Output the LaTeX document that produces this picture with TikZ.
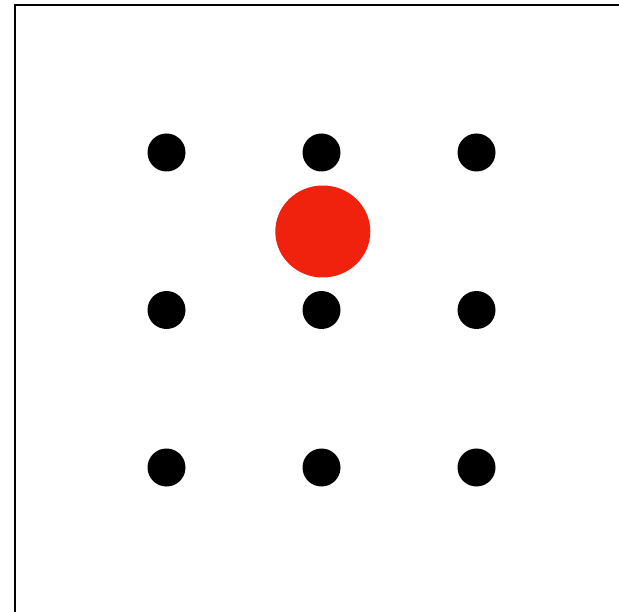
\documentclass[tikz,border=0pt]{standalone}
\usepackage{tikz}
\usetikzlibrary{positioning, shapes.geometric}
\definecolor{markred}{RGB}{240,34,14}

\begin{document}
\begin{tikzpicture}[
        x=1pt, y=-1pt,
        gridpt/.style={circle, fill=black, inner sep=0pt, minimum size=38pt},
        marker/.style={ellipse, fill=markred, inner sep=0pt, minimum width=95pt, minimum height=92pt},
        frameline/.style={line width=2pt, black}
    ]
%
    \useasboundingbox (0, 0) rectangle (619, 612);
%
    % Frame
    \coordinate (fbl) at (15, 614);
    \coordinate (ftl) at (15, 5);
    \coordinate (ftr) at (621, 5);
    \draw[frameline] (fbl) -- (ftl) -- (ftr);
%
    % Grid points
    \foreach \i/\x in {1/166.5, 2/321.5, 3/476.5} {
        \foreach \j/\y in {1/152.5, 2/310, 3/467.5} {
            \node[gridpt] (p\i\j) at (\x, \y) {};
        }
    }
%
    % Marker
    \node[marker] (mark) at (322.8, 231.5) {};
%
\end{tikzpicture}
\end{document}
